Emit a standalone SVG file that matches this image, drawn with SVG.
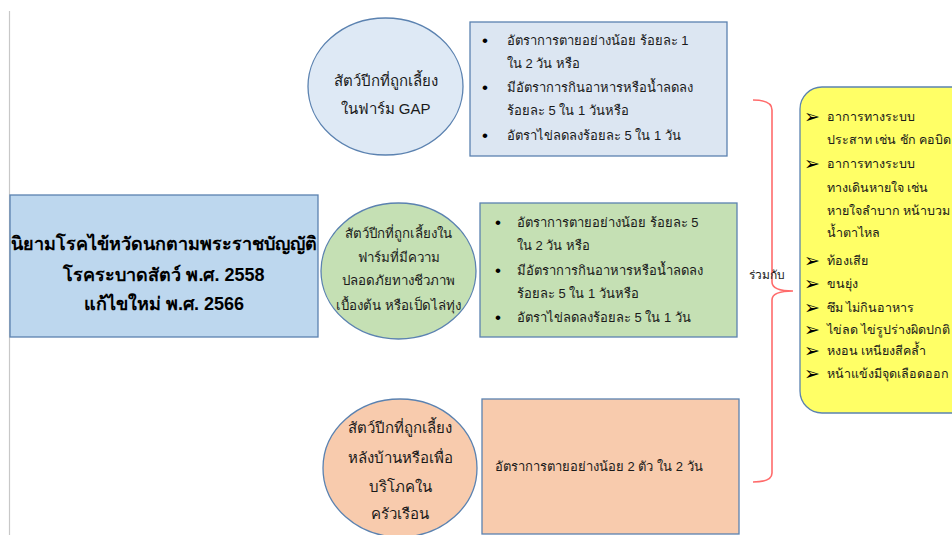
<svg xmlns="http://www.w3.org/2000/svg" width="952" height="535" viewBox="0 0 952 535">
<style>
text{font-family:"Liberation Sans","Noto Sans","DejaVu Sans",sans-serif;fill:#1a1a1a}
.t{font-size:13px}
.b{font-size:17px;fill:#000}
.e{font-size:15px;text-anchor:middle}
.e2{font-size:13.3px;text-anchor:middle}
.h{font-size:18px;font-weight:bold;text-anchor:middle;fill:#000}
.y{font-size:12.5px}
.a{font-size:19px;fill:#000;font-weight:bold;font-family:"DejaVu Sans",sans-serif}
.bx{stroke:#5b82b0;stroke-width:1.3}
</style>
<rect width="952" height="535" fill="#fff"/>
<line x1="9.5" y1="11" x2="9.5" y2="535" stroke="#c8c8c8" stroke-width="1.2"/>

<g id="main">
<rect class="bx" x="10" y="195" width="308" height="142" fill="#bdd7ee"/>
<text class="h" x="164" y="250">นิยามโรคไข้หวัดนกตามพระราชบัญญัติ</text>
<text class="h" x="164" y="281">โรคระบาดสัตว์ พ.ศ. 2558</text>
<text class="h" x="164" y="310">แก้ไขใหม่ พ.ศ. 2566</text>
</g>

<g id="ellipse1">
<ellipse class="bx" cx="385.5" cy="86.5" rx="77.5" ry="68.5" fill="#dee9f5"/>
<text class="e" x="385.5" y="86">สัตว์ปีกที่ถูกเลี้ยง</text>
<text class="e" x="385.5" y="114">ในฟาร์ม GAP</text>
</g>

<g id="box1">
<rect class="bx" x="470" y="22" width="257" height="134" fill="#dce6f2"/>
<text class="b" x="482" y="46">•</text>
<text class="t" x="507" y="45">อัตราการตายอย่างน้อย ร้อยละ 1</text>
<text class="t" x="507" y="68">ใน 2 วัน หรือ</text>
<text class="b" x="482" y="93">•</text>
<text class="t" x="507" y="92">มีอัตราการกินอาหารหรือน้ำลดลง</text>
<text class="t" x="507" y="115">ร้อยละ 5 ใน 1 วันหรือ</text>
<text class="b" x="482" y="141">•</text>
<text class="t" x="507" y="140">อัตราไข่ลดลงร้อยละ 5 ใน 1 วัน</text>
</g>

<g id="ellipse2">
<ellipse class="bx" cx="398.5" cy="271" rx="77.5" ry="68" fill="#c5e0b4"/>
<text class="e2" x="398.5" y="238">สัตว์ปีกที่ถูกเลี้ยงใน</text>
<text class="e2" x="398.5" y="262">ฟาร์มที่มีความ</text>
<text class="e2" x="398.5" y="285">ปลอดภัยทางชีวภาพ</text>
<text class="e2" x="398.5" y="310">เบื้องต้น หรือเป็ดไล่ทุ่ง</text>
</g>

<g id="box2">
<rect class="bx" x="480" y="203" width="257" height="134" fill="#c5e0b4"/>
<text class="b" x="495" y="228">•</text>
<text class="t" x="517" y="227">อัตราการตายอย่างน้อย ร้อยละ 5</text>
<text class="t" x="517" y="250">ใน 2 วัน หรือ</text>
<text class="b" x="495" y="276">•</text>
<text class="t" x="517" y="275">มีอัตราการกินอาหารหรือน้ำลดลง</text>
<text class="t" x="517" y="298">ร้อยละ 5 ใน 1 วันหรือ</text>
<text class="b" x="495" y="323">•</text>
<text class="t" x="517" y="322">อัตราไข่ลดลงร้อยละ 5 ใน 1 วัน</text>
</g>

<g id="ellipse3">
<ellipse class="bx" cx="400" cy="468" rx="77" ry="69" fill="#f8cbad"/>
<text class="e" x="400" y="433">สัตว์ปีกที่ถูกเลี้ยง</text>
<text class="e" x="400" y="463">หลังบ้านหรือเพื่อ</text>
<text class="e" x="400" y="492">บริโภคใน</text>
<text class="e" x="400" y="519">ครัวเรือน</text>
</g>

<g id="box3">
<rect class="bx" x="482" y="399" width="257" height="135" fill="#f8cbad"/>
<text class="t" x="495" y="471">อัตราการตายอย่างน้อย 2 ตัว ใน 2 วัน</text>
</g>

<g id="connectors">
<path d="M753,100 Q772,100 772,110 L772,282 Q772,291 793,291 Q772,291 772,300 L772,473 Q772,482 753,482" fill="none" stroke="#ff6b6b" stroke-width="1.6"/>
</g>
<text x="749" y="279" style="font-size:12px">ร่วมกับ</text>

<g id="symptoms">
<rect x="800" y="87" width="180" height="326" rx="22" ry="22" fill="#ffff66" stroke="#5b82b0" stroke-width="1.3"/>
<text class="a" x="804" y="123">➢</text>
<text class="y" x="827" y="121">อาการทางระบบ</text>
<text class="y" x="827" y="144">ประสาท เช่น ชัก คอบิด</text>
<text class="a" x="804" y="170">➢</text>
<text class="y" x="827" y="168">อาการทางระบบ</text>
<text class="y" x="827" y="192">ทางเดินหายใจ เช่น</text>
<text class="y" x="827" y="215">หายใจลำบาก หน้าบวม</text>
<text class="y" x="827" y="237">น้ำตาไหล</text>
<text class="a" x="804" y="267">➢</text>
<text class="y" x="827" y="265">ท้องเสีย</text>
<text class="a" x="804" y="290">➢</text>
<text class="y" x="827" y="288">ขนยุ่ง</text>
<text class="a" x="804" y="314">➢</text>
<text class="y" x="827" y="312">ซึม ไม่กินอาหาร</text>
<text class="a" x="804" y="336">➢</text>
<text class="y" x="827" y="334">ไข่ลด ไข่รูปร่างผิดปกติ</text>
<text class="a" x="804" y="357">➢</text>
<text class="y" x="827" y="355">หงอน เหนียงสีคล้ำ</text>
<text class="a" x="804" y="380">➢</text>
<text class="y" x="827" y="378">หน้าแข้งมีจุดเลือดออก</text>
</g>
</svg>
